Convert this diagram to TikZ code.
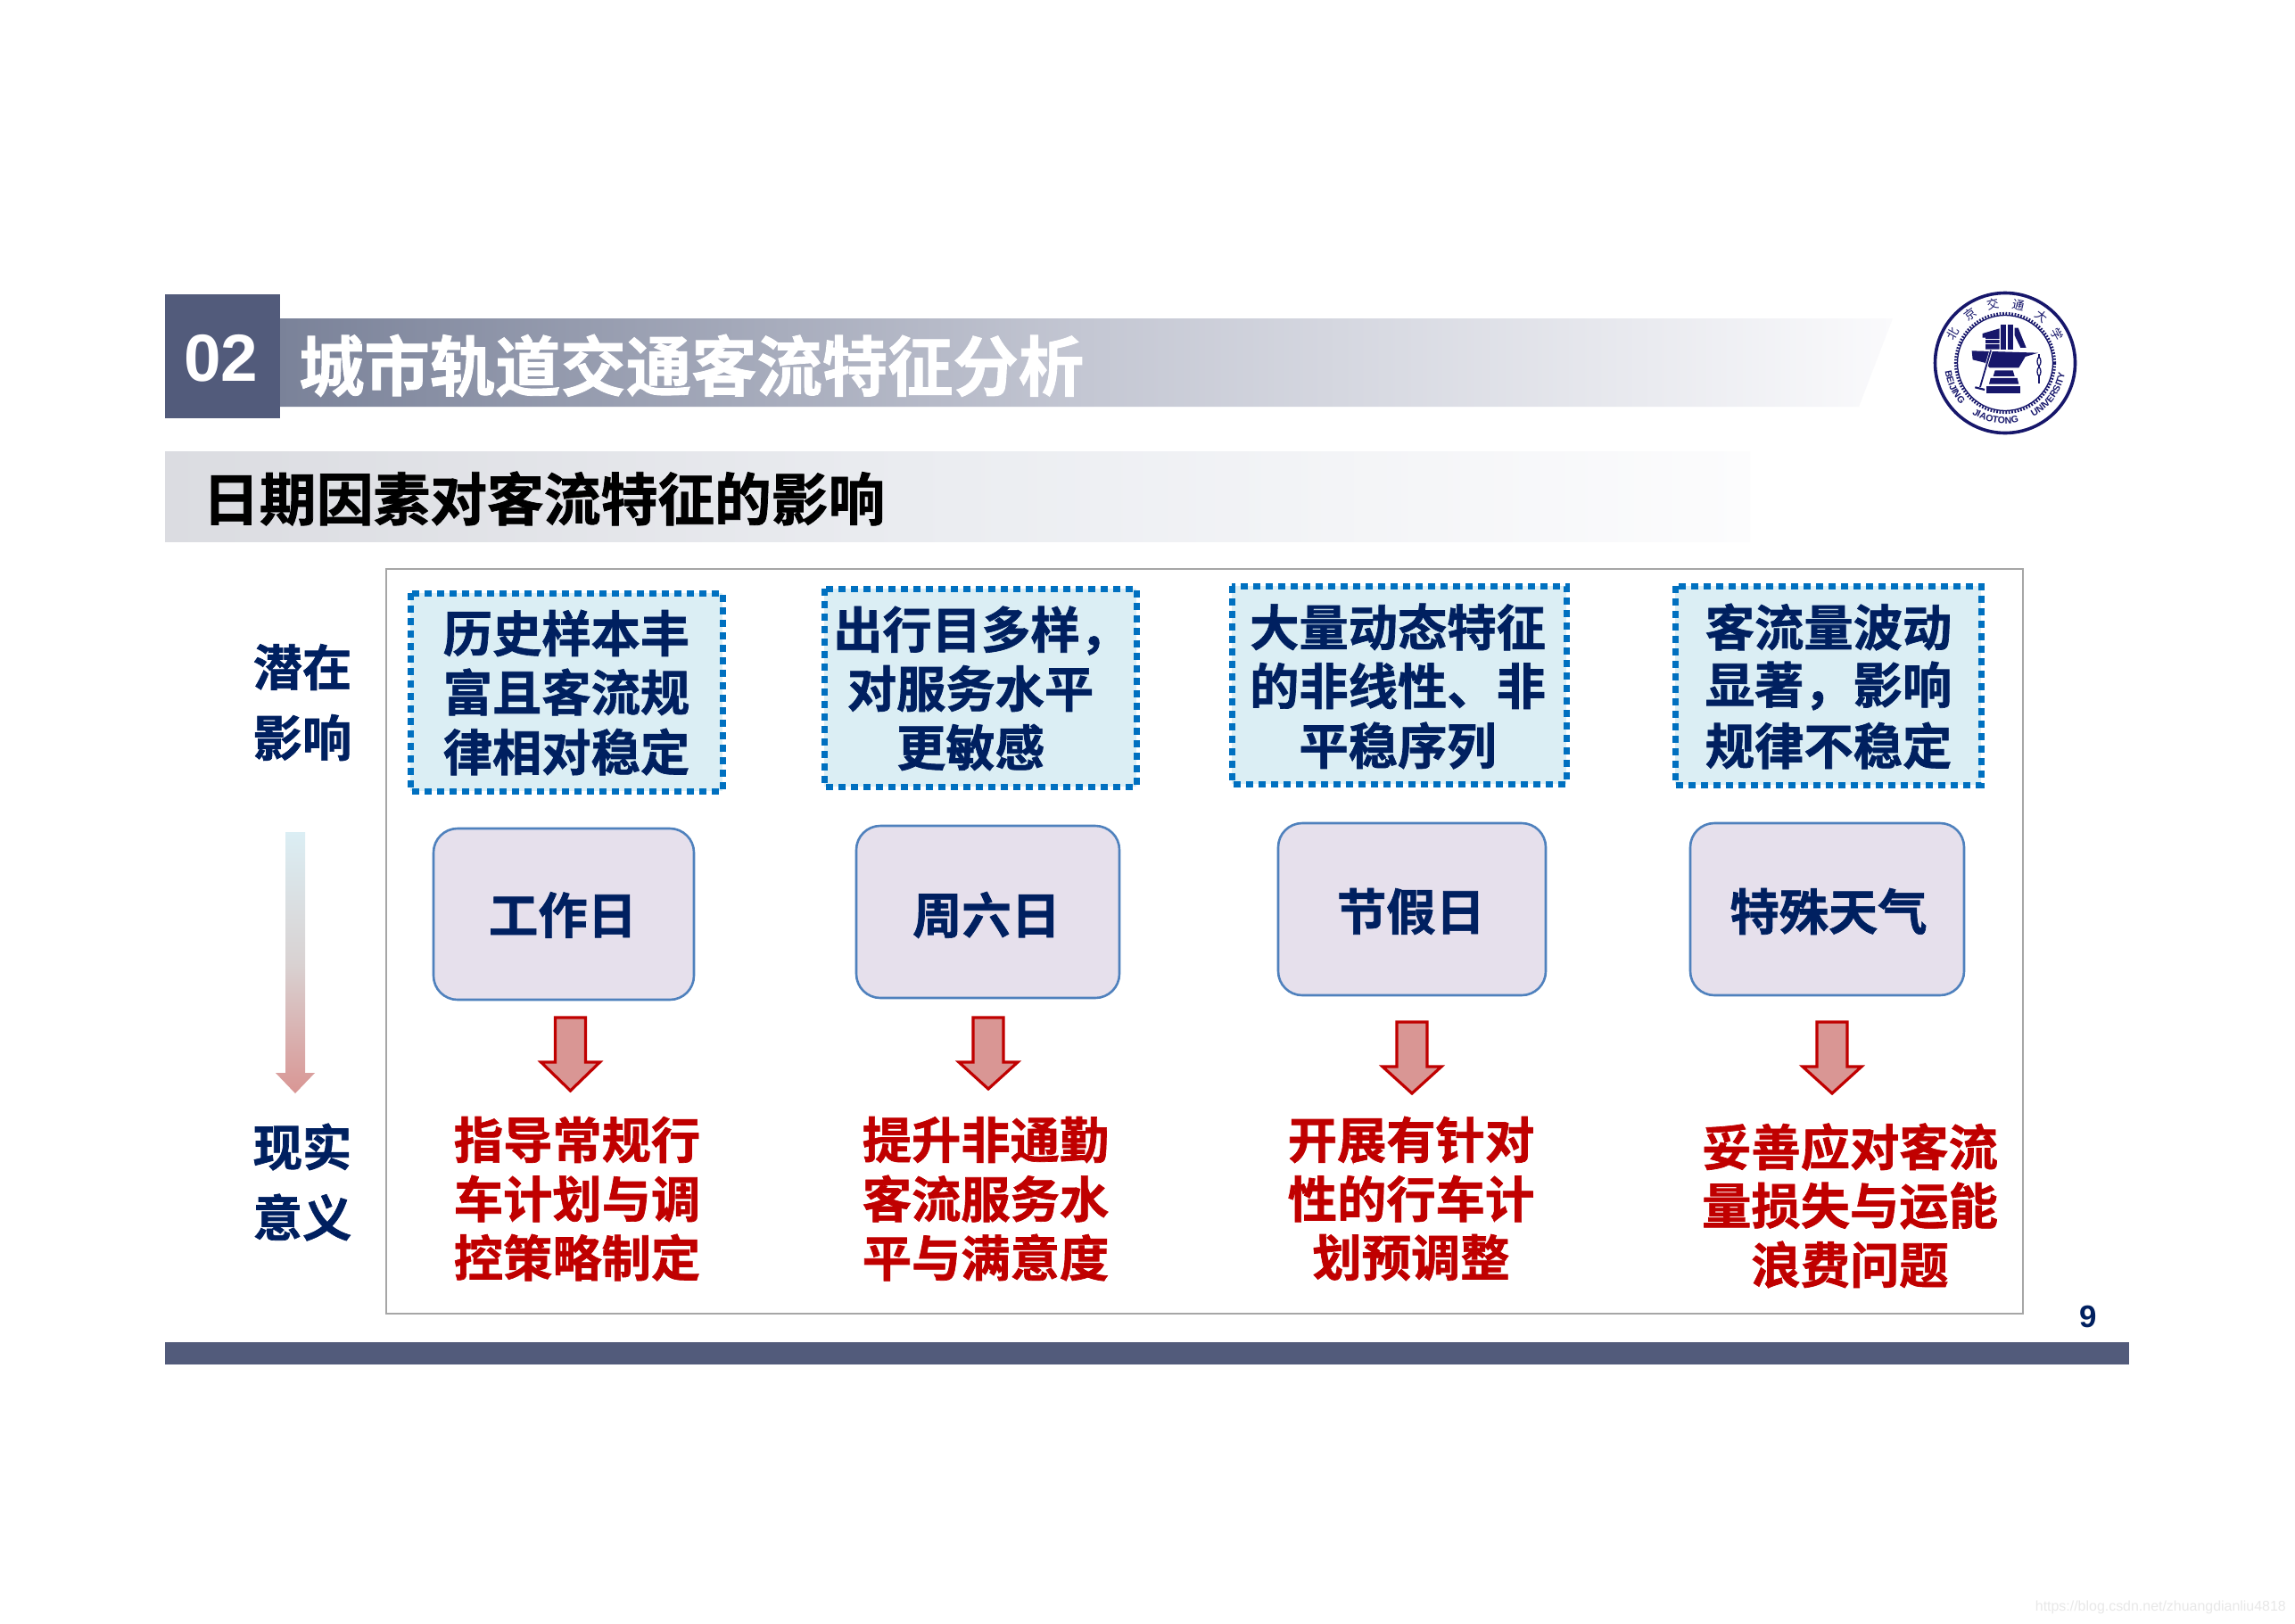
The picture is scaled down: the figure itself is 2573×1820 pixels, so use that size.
\documentclass[tikz,border=0pt]{standalone}
\usepackage{fontspec}
\usetikzlibrary{decorations.text,shapes.geometric}
\setmainfont{Liberation Sans}
\newfontfamily\cjk{Noto Sans CJK SC}[BoldFont={Noto Sans CJK SC Bold},BoldFeatures={FakeBold=1.2}]
\definecolor{navy}{HTML}{002060}
\definecolor{slate}{HTML}{525B7B}
\definecolor{redd}{HTML}{C00000}
\definecolor{logoblue}{HTML}{17176B}
\definecolor{dashfill}{HTML}{DBEEF4}
\definecolor{dashblue}{HTML}{0070C0}
\definecolor{boxblue}{HTML}{4F81BD}
\definecolor{boxfill}{HTML}{E6E0EC}
\definecolor{arrowfill}{HTML}{D99694}
\definecolor{HeadA}{HTML}{7A8299}
\definecolor{HeadB}{HTML}{C4C7D3}
\definecolor{HeadC}{HTML}{FAFAFC}
\definecolor{SubA}{HTML}{DBDCE1}
\definecolor{SubB}{HTML}{EBEDF1}
\definecolor{SubC}{HTML}{FCFCFD}
\definecolor{GradMid}{HTML}{D9D2D2}
\newcommand{\fs}[1]{\fontsize{#1}{#1}\selectfont}
\newcommand{\redarrow}[3]{%
  \draw[redarrowstyle] (#1-17,#2) -- (#1+17,#2) -- (#1+17,#2+50) -- (#1+33,#2+50) -- (#1,#3) -- (#1-33,#2+50) -- (#1-17,#2+50) -- cycle;}
\tikzset{
  dashbox/.style={draw=dashblue,fill=dashfill,line width=7bp,dash pattern=on 8bp off 6bp},
  roundbox/.style={draw=boxblue,fill=boxfill,line width=2.6bp,rounded corners=27bp},
  redarrowstyle/.style={draw=redd,fill=arrowfill,line width=3.2bp},
  txt/.style={inner sep=0pt,align=center},
  bluetxt/.style={txt,text=navy,font=\cjk\bfseries\fs{55.5}},
  redtxt/.style={txt,text=redd,font=\cjk\bfseries\fs{55.5}},
}
\begin{document}
\begin{tikzpicture}[x=1bp,y=-1bp]
\useasboundingbox (0,0) rectangle (2573,1820);
\fill[white] (0,0) rectangle (2573,1820);
% header
\shade[left color=HeadA,right color=HeadC,middle color=HeadB] (314,357) -- (2122,357) -- (2084,456) -- (314,456) -- cycle;
\fill[slate] (185,330) rectangle (314,469);
\shade[left color=SubA,right color=SubC,middle color=SubB] (185,506) rectangle (1962,607);
\node[txt,text=white,font=\bfseries\fs{75}] (num) at (248,402) {02};
\node[txt,text=white,font=\cjk\bfseries\fs{73.6},anchor=west] (title) at (335,410) {城市轨道交通客流特征分析};
\node[txt,text=black,font=\cjk\bfseries\fs{64},anchor=west] (sub) at (227,559) {日期因素对客流特征的影响};
% logo
\begin{scope}[shift={(2248,407)},x=1bp,y=1bp]
  \draw[logoblue,line width=3.6bp] (0,0) circle (78.5);
  \draw[logoblue,line width=3.2bp,dash pattern=on 1.7bp off 1.7bp] (0,0) circle (55.5);
  \draw[logoblue,line width=1.3bp] (0,0) circle (53.5);
  \path[decorate,decoration={text along path,text align=center,text={|\bfseries\fs{10.5}\color{logoblue}|BEIJING}}]
     (185:68) arc[start angle=185,end angle=226,radius=68];
  \path[decorate,decoration={text along path,text align=center,text={|\bfseries\fs{10.5}\color{logoblue}|JIAOTONG}}]
     (232:68) arc[start angle=232,end angle=288,radius=68];
  \path[decorate,decoration={text along path,text align=center,text={|\bfseries\fs{10.5}\color{logoblue}|UNIVERSITY}}]
     (293:68) arc[start angle=293,end angle=355,radius=68];
  \foreach \ch/\ang in {北/151,京/126,交/102,通/77,大/52,学/29}{
    \node[inner sep=0pt,text=logoblue,font=\cjk\fs{13.5},rotate=\ang-90] at (\ang:67) {\ch};}
\end{scope}
\begin{scope}[shift={(2100,300)},x=0.3333bp,y=-0.3333bp]
  \fill[logoblue] (368,222) -- (425,205) -- (425,275) -- (378,275) -- (378,236) -- (368,236) -- cycle;
  \fill[logoblue] (430,193) rectangle (448,275);
  \fill[logoblue] (453,193) rectangle (471,275);
  \fill[logoblue] (476,203) -- (488,203) -- (515,270) -- (496,270) -- (476,228) -- cycle;
  \draw[white,line width=1bp] (378,241) -- (425,241) (378,258) -- (425,258);
  \fill[logoblue] (332,280) -- (555,287) -- (512,300) -- (490,337) -- (392,337) -- (375,320) -- (335,310) -- cycle;
  \fill[logoblue] (410,346) -- (470,346) -- (476,366) -- (404,366) -- cycle;
  \fill[logoblue] (395,372) -- (485,372) -- (490,392) -- (390,392) -- cycle;
  \fill[logoblue] (382,398) rectangle (495,423);
  \draw[white,line width=3.4bp] (396,280) -- (360,402);
  \draw[logoblue,line width=1.8bp] (396,278) -- (360,402);
  \draw[logoblue,line width=2.2bp] (343,403) -- (375,411);
  \draw[logoblue,line width=1.2bp] (558,292) -- (558,302) (558,328) -- (558,338) (558,362) -- (558,390);
  \draw[logoblue,line width=1.3bp] (558,316) ellipse (6 and 14) (558,350) ellipse (6 and 14);
\end{scope}
% panel
\draw[draw=black!35,line width=1.8bp] (433,638) rectangle (2268,1473);
% side labels
\node[bluetxt] (l1) at (339,748) {潜在};
\node[bluetxt] (l2) at (339,827) {影响};
\node[bluetxt] (l3) at (339,1286) {现实};
\node[bluetxt] (l4) at (339,1365) {意义};
\shade[top color=dashfill,bottom color=arrowfill,middle color=GradMid] (320,933) -- (342,933) -- (342,1203) -- (353,1203) -- (331,1226) -- (309,1203) -- (320,1203) -- cycle;
% dashed boxes
\draw[dashbox] (460,665) rectangle (810,887);
\draw[dashbox] (924,660) rectangle (1274,882);
\draw[dashbox] (1381,657) rectangle (1756,879);
\draw[dashbox] (1878,657) rectangle (2221,880);
\node[bluetxt] (p1a) at (635,710) {历史样本丰};
\node[bluetxt] (p1b) at (635,776) {富且客流规};
\node[bluetxt] (p1c) at (635,843) {律相对稳定};
\node[bluetxt,anchor=west] (p2a) at (934,707) {出行目多样，};
\node[bluetxt] (p2b) at (1088,772) {对服务水平};
\node[bluetxt] (p2c) at (1088,838) {更敏感};
\node[bluetxt] (p3a) at (1567,703) {大量动态特征};
\node[bluetxt] (p3b) at (1567,769) {的非线性、非};
\node[bluetxt] (p3c) at (1567,836) {平稳序列};
\node[bluetxt] (p4a) at (2050,703) {客流量波动};
\node[bluetxt] (p4b) at (2050,769) {显著，影响};
\node[bluetxt] (p4c) at (2050,836) {规律不稳定};
% round boxes
\draw[roundbox] (486,929) rectangle (778,1121);
\draw[roundbox] (960,926) rectangle (1255,1119);
\draw[roundbox] (1433,923) rectangle (1733,1116);
\draw[roundbox] (1895,923) rectangle (2202,1116);
\node[bluetxt] (b1) at (631,1026) {工作日};
\node[bluetxt] (b2) at (1106,1026) {周六日};
\node[bluetxt] (b3) at (1582,1022) {节假日};
\node[bluetxt] (b4) at (2050,1022) {特殊天气};
% red arrows
\redarrow{639.5}{1141}{1223}
\redarrow{1108}{1141}{1221}
\redarrow{1583}{1146}{1226}
\redarrow{2054}{1146}{1226}
% red text
\node[redtxt] (r1a) at (647,1278) {指导常规行};
\node[redtxt] (r1b) at (647,1344) {车计划与调};
\node[redtxt] (r1c) at (647,1410) {控策略制定};
\node[redtxt] (r2a) at (1105,1278) {提升非通勤};
\node[redtxt] (r2b) at (1105,1344) {客流服务水};
\node[redtxt] (r2c) at (1105,1410) {平与满意度};
\node[redtxt] (r3a) at (1582,1278) {开展有针对};
\node[redtxt] (r3b) at (1582,1344) {性的行车计};
\node[redtxt] (r3c) at (1582,1410) {划预调整};
\node[redtxt] (r4a) at (2074,1286) {妥善应对客流};
\node[redtxt] (r4b) at (2074,1352) {量损失与运能};
\node[redtxt] (r4c) at (2074,1418) {浪费问题};
% footer
\node[txt,text=navy,font=\bfseries\fs{35}] (page) at (2341,1476) {9};
\fill[slate] (185,1505) rectangle (2387,1530);
\node[txt,text=black!9,font=\fs{16},anchor=east] (wm) at (2563,1802) {https://blog.csdn.net/zhuangdianliu4818};
\end{tikzpicture}
\end{document}
